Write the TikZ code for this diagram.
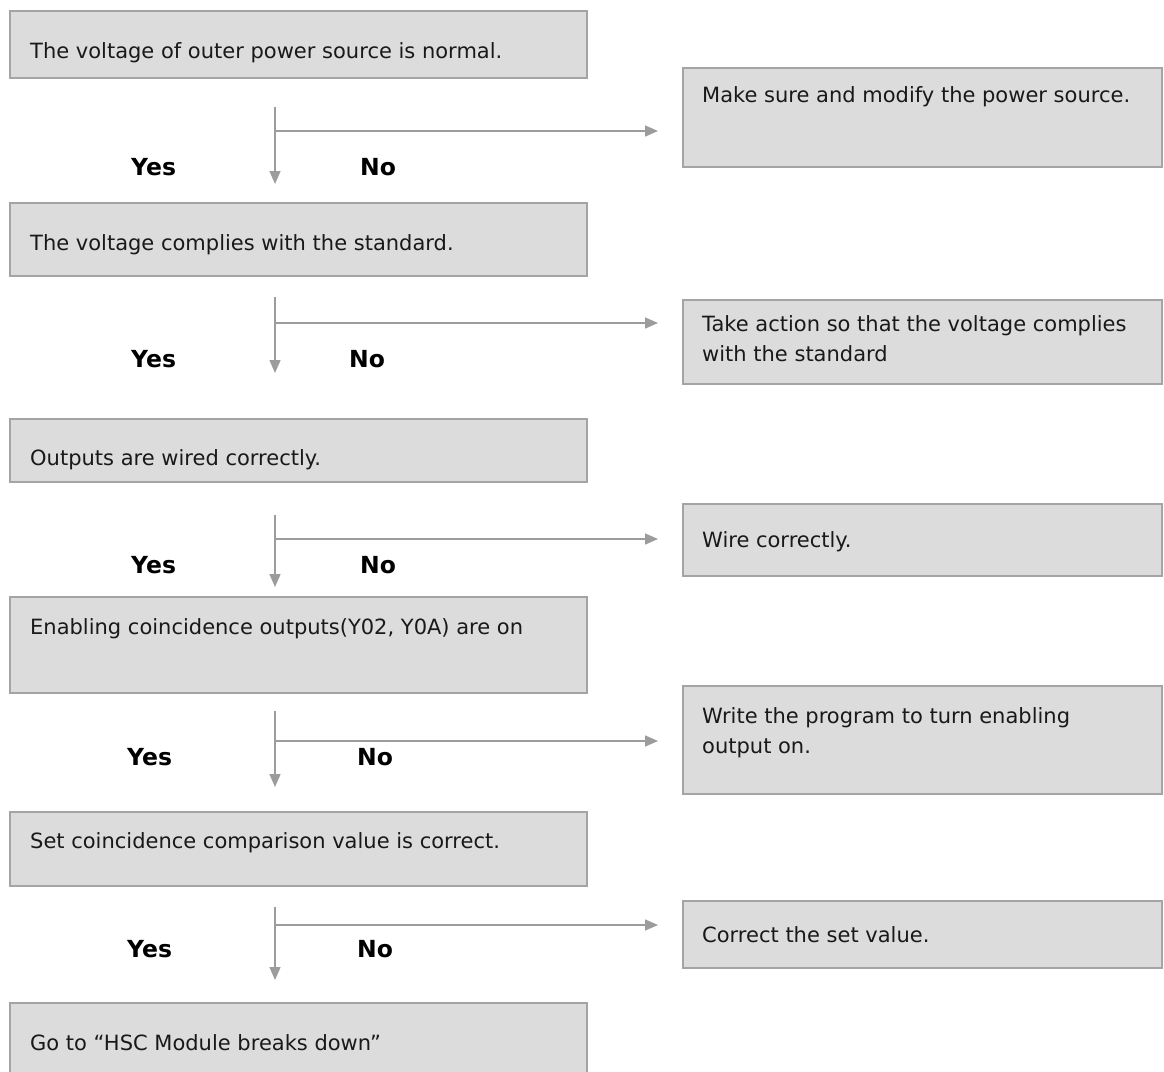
\documentclass[tikz,border=0pt]{standalone}
\usepackage{fontspec}
\setmainfont{DejaVu Sans}
\usetikzlibrary{arrows.meta}
\definecolor{boxfill}{HTML}{DCDCDC}
\definecolor{boxline}{HTML}{A4A4A4}
\definecolor{flowline}{HTML}{9C9C9C}
\begin{document}
\begin{tikzpicture}[x=1pt,y=-1pt,
  box/.style={draw=boxline, fill=boxfill, line width=1.5pt, anchor=north west,
    inner sep=0pt, outer sep=0pt},
  lbox/.style={box, minimum width=577pt},
  rbox/.style={box, minimum width=479pt},
  txt/.style={anchor=base west, inner sep=0pt, align=left,
    font=\fontsize{21}{30}\selectfont, text=black!90},
  yn/.style={anchor=base west, inner sep=0pt, font=\fontsize{23.5}{26}\selectfont\bfseries},
  flow/.style={draw=flowline, line width=1.5pt, -{Triangle[length=13pt,width=11pt]}},
  branch/.style={draw=flowline, line width=1.5pt}]

\useasboundingbox (0,0) rectangle (1164,1071);
\clip (0,0) rectangle (1164,1071);

% checks in the left column
\node[lbox, minimum height=67pt] (q1) at (10,11) {};
\node[lbox, minimum height=73pt] (q2) at (10,203) {};
\node[lbox, minimum height=63pt] (q3) at (10,419) {};
\node[lbox, minimum height=96pt] (q4) at (10,597) {};
\node[lbox, minimum height=74pt] (q5) at (10,812) {};
\node[lbox, minimum height=82pt] (q6) at (10,1003) {};

\node[txt] (q1t) at (30,58) {The voltage of outer power source is normal.};
\node[txt] (q2t) at (30,250) {The voltage complies with the standard.};
\node[txt] (q3t) at (30,465) {Outputs are wired correctly.};
\node[txt] (q4t) at (30,634) {Enabling coincidence outputs(Y02, Y0A) are on};
\node[txt] (q5t) at (30,848) {Set coincidence comparison value is correct.};
\node[txt] (q6t) at (30,1050) {Go to “HSC Module breaks down”};

% remedies in the right column
\node[rbox, minimum height=99pt] (r1) at (683,68) {};
\node[rbox, minimum height=84pt] (r2) at (683,300) {};
\node[rbox, minimum height=72pt] (r3) at (683,504) {};
\node[rbox, minimum height=108pt] (r4) at (683,686) {};
\node[rbox, minimum height=67pt] (r5) at (683,901) {};

% multi-line texts sit on the baseline of their last line
\node[txt] (r1t) at (702,102) {Make sure and modify the power source.};
\node[txt] (r2t) at (702,361) {Take action so that the voltage complies\\with the standard};
\node[txt] (r3t) at (702,547) {Wire correctly.};
\node[txt] (r4t) at (702,753) {Write the program to turn enabling\\output on.};
\node[txt] (r5t) at (702,942) {Correct the set value.};

% branch points: top of stem, fork, and the two free arrow ends
\foreach \i/\top/\fork/\tip in {1/107/131/184, 2/297/323/373, 3/515/539/587,
                                4/711/741/787, 5/907/925/980}{
  \coordinate (s\i) at (275,\top);
  \coordinate (f\i) at (275,\fork);
  \coordinate (y\i) at (275,\tip);
  \coordinate (n\i) at (658,\fork);
  \path[branch] (s\i) -- (f\i);
  \path[flow] (f\i) -- (y\i);
  \path[flow] (f\i) -- (n\i);
}

% Yes / No labels
\node[yn] (yes1) at (131,175) {Yes};
\node[yn] (no1)  at (360,175) {No};
\node[yn] (yes2) at (131,367) {Yes};
\node[yn] (no2)  at (349,367) {No};
\node[yn] (yes3) at (131,573) {Yes};
\node[yn] (no3)  at (360,573) {No};
\node[yn] (yes4) at (127,765) {Yes};
\node[yn] (no4)  at (357,765) {No};
\node[yn] (yes5) at (127,957) {Yes};
\node[yn] (no5)  at (357,957) {No};
\end{tikzpicture}
\end{document}
